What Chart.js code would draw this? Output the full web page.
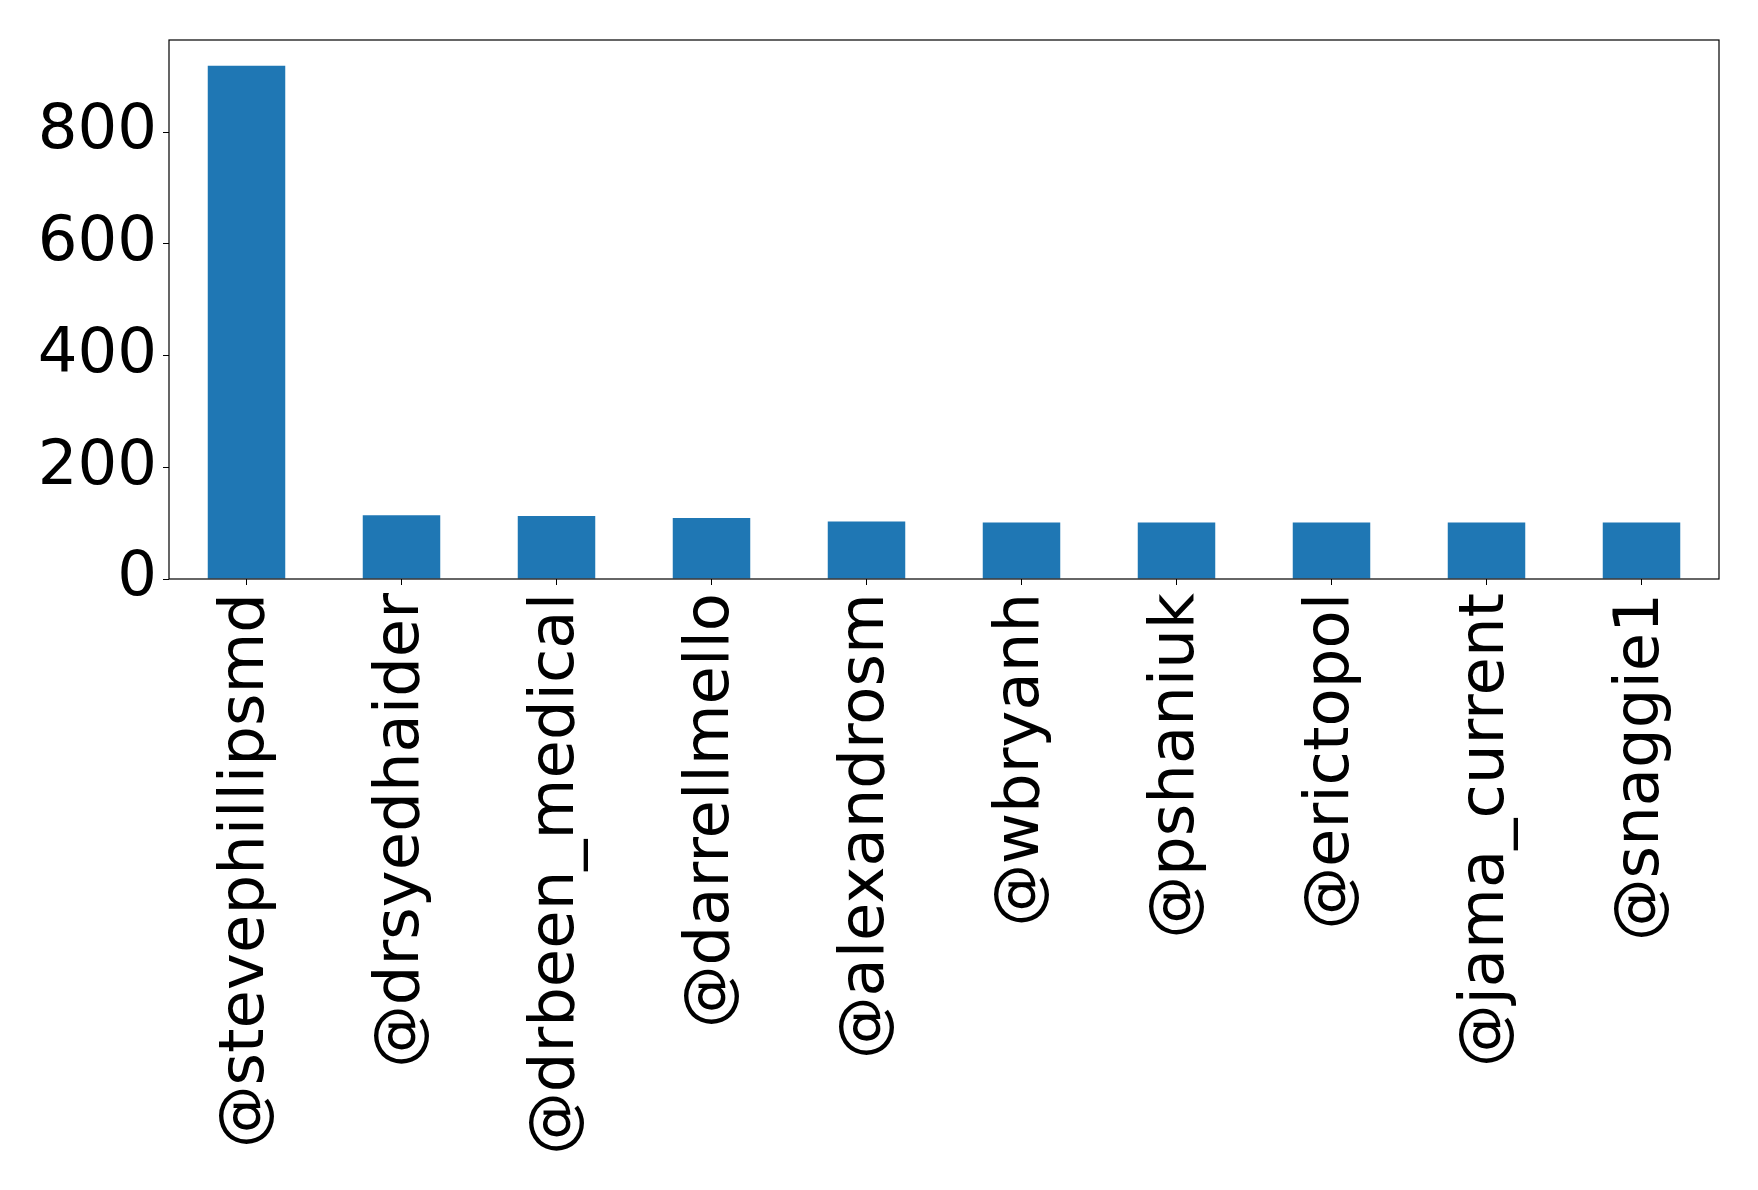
<!DOCTYPE html>
<html>
<head>
<meta charset="utf-8">
<script src="https://cdn.jsdelivr.net/npm/chart.js@4/dist/chart.umd.min.js"></script>
<style>
  body { margin: 0; background: #fff; }
  #wrap { width: 1758px; height: 1190px; }
</style>
</head>
<body>
<div id="wrap"><canvas id="bars" width="1758" height="1190"></canvas></div>
<script>
const accounts = ['@stevephillipsmd', '@drsyedhaider', '@drbeen_medical', '@darrellmello', '@alexandrosm',
                  '@wbryanh', '@pshaniuk', '@erictopol', '@jama_current', '@snaggie1'];
const counts = [919, 114, 113, 109, 103, 101, 101, 101, 101, 101];
const yTicks = [0, 200, 400, 600, 800];

const FONT = { family: 'DejaVu Sans', size: 62.5 };

// full black frame round the plot, like matplotlib's spines
const frame = {
    id: 'frame',
    afterDraw(chart) {
        const a = chart.chartArea, ctx = chart.ctx;
        ctx.save();
        ctx.strokeStyle = '#000';
        ctx.lineWidth = 1.2;
        ctx.strokeRect(a.left, a.top, a.right - a.left, a.bottom - a.top);
        ctx.restore();
    }
};

new Chart(document.getElementById('bars'), {
    type: 'bar',
    data: {
        labels: accounts,
        datasets: [{
            data: counts,
            backgroundColor: '#1f77b4',
            borderWidth: 0,
            categoryPercentage: 1,
            barPercentage: 0.5
        }]
    },
    options: {
        responsive: false,
        animation: false,
        layout: { padding: { top: 40, right: 39, left: 0, bottom: 0 } },
        plugins: { legend: { display: false }, tooltip: { enabled: false } },
        scales: {
            x: {
                grid: { offset: false, drawOnChartArea: false, drawTicks: true, tickLength: 6, color: '#000' },
                border: { display: false },
                ticks: { color: '#000', font: FONT, minRotation: 90, maxRotation: 90, padding: 8, autoSkip: false },
                afterFit(scale) { scale.height = 611; scale.paddingLeft = 0; scale.paddingRight = 0; }
            },
            y: {
                min: 0,
                max: 965,
                afterBuildTicks(scale) { scale.ticks = yTicks.map(v => ({ value: v })); },
                grid: { drawOnChartArea: false, drawTicks: true, tickLength: 6, color: '#000' },
                border: { display: false },
                ticks: { color: '#000', font: FONT, padding: 6 },
                afterFit(scale) { scale.width = 169; scale.paddingTop = 0; scale.paddingBottom = 0; }
            }
        }
    },
    plugins: [frame]
});
</script>
</body>
</html>
